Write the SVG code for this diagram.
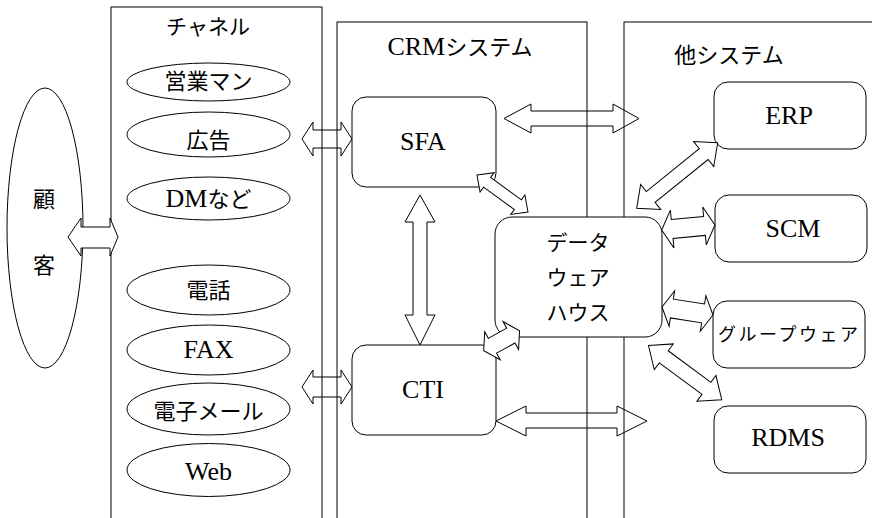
<svg xmlns="http://www.w3.org/2000/svg" width="872" height="518" viewBox="0 0 872 518">
  <style>
    .frame { fill: none; stroke: #000; stroke-width: 1; }
    .node { fill: #fff; stroke: #000; stroke-width: 1; }
    .arw { fill: #fff; stroke: #000; stroke-width: 1; stroke-linejoin: miter; }
    .open { fill: none; }
    text { font-family: "Liberation Serif", "Noto Sans CJK JP", serif; fill: #000; text-anchor: middle; }
    .jp { font-size: 22px; }
    .en { font-size: 26px; }
  </style>

  <rect width="872" height="518" fill="#fff"/>

  <!-- system frames (open at the bottom) -->
  <g id="frames">
    <g id="frame-channel">
      <rect class="frame" x="111" y="7" width="211" height="530"/>
      <text class="jp" x="208" y="34" style="font-size:21px">チャネル</text>
    </g>
    <g id="frame-crm">
      <rect class="frame" x="337" y="22" width="250" height="515"/>
      <text x="460" y="55"><tspan class="en">CRM</tspan><tspan class="jp">システム</tspan></text>
    </g>
    <g id="frame-other">
      <rect class="frame" x="624" y="22" width="270" height="515"/>
      <text class="jp" x="729" y="63">他システム</text>
    </g>
  </g>

  <!-- customer -->
  <g id="customer">
    <ellipse class="node" cx="45" cy="228" rx="38" ry="140"/>
    <text class="jp" x="44" y="207">顧</text>
    <text class="jp" x="44" y="273">客</text>
  </g>

  <!-- channels -->
  <g id="ch-sales">
    <ellipse class="node" cx="208.5" cy="82" rx="81.5" ry="19"/>
    <text class="jp" x="208.5" y="89">営業マン</text>
  </g>
  <g id="ch-ad">
    <ellipse class="node" cx="208.5" cy="134.5" rx="81.5" ry="22.5"/>
    <text class="jp" x="208.5" y="148">広告</text>
  </g>
  <g id="ch-dm">
    <ellipse class="node" cx="208.5" cy="198.5" rx="81.5" ry="21.5"/>
    <text x="208.5" y="207"><tspan class="en">DM</tspan><tspan class="jp">など</tspan></text>
  </g>
  <g id="ch-tel">
    <ellipse class="node" cx="208.5" cy="290" rx="81.5" ry="25"/>
    <text class="jp" x="208.5" y="298">電話</text>
  </g>
  <g id="ch-fax">
    <ellipse class="node" cx="208.5" cy="350" rx="81.5" ry="25"/>
    <text class="en" x="208.5" y="358">FAX</text>
  </g>
  <g id="ch-mail">
    <ellipse class="node" cx="208.5" cy="409" rx="81.5" ry="26"/>
    <text class="jp" x="208.5" y="419">電子メール</text>
  </g>
  <g id="ch-web">
    <ellipse class="node" cx="208.5" cy="470" rx="81.5" ry="26.5"/>
    <text class="en" x="208.5" y="480">Web</text>
  </g>

  <!-- CRM components -->
  <g id="sfa">
    <rect class="node" x="352" y="97" width="144" height="90" rx="14"/>
    <text class="en" x="423" y="150">SFA</text>
  </g>
  <g id="cti">
    <rect class="node" x="352" y="345" width="144" height="90" rx="14"/>
    <text class="en" x="423" y="398">CTI</text>
  </g>
  <g id="dwh">
    <rect class="node" x="495" y="217" width="167" height="120" rx="17"/>
    <text class="jp" x="578" y="250" style="font-size:21px">データ</text>
    <text class="jp" x="578" y="285" style="font-size:21px">ウェア</text>
    <text class="jp" x="578" y="320" style="font-size:21px">ハウス</text>
  </g>

  <!-- other systems -->
  <g id="erp">
    <rect class="node" x="714" y="82" width="152" height="67" rx="14"/>
    <text class="en" x="789" y="124">ERP</text>
  </g>
  <g id="scm">
    <rect class="node" x="715" y="195" width="152" height="67" rx="14"/>
    <text class="en" x="793" y="237">SCM</text>
  </g>
  <g id="groupware">
    <rect class="node" x="713" y="301" width="152" height="67" rx="14"/>
    <text class="jp" x="788" y="341" style="font-size:18px" textLength="140" lengthAdjust="spacing">グループウェア</text>
  </g>
  <g id="rdms">
    <rect class="node" x="714" y="406" width="152" height="67" rx="14"/>
    <text class="en" x="788" y="446">RDMS</text>
  </g>

  <!-- connectors: block double arrows -->
  <g id="connectors">
    <polygon class="arw" points="68,237 81,218 81,227 110,227 110,218 118,237 110,256 110,248 81,248 81,256"/>
    <polygon class="arw open" points="302,139 313,122 313,130 341,130 341,122 352,139 341,156 341,148 313,148 313,156"/>
    <polygon class="arw open" points="302,387 313,370 313,377 341,377 341,370 352,387 341,404 341,397 313,397 313,404"/>
    <polygon class="arw open" points="504,118.5 531,104 531,111 613,111 613,104 639,118.5 613,133 613,126 531,126 531,133"/>
    <polygon class="arw open" points="496,421 526,406 526,413 617,413 617,406 647,421 617,436 617,428 526,428 526,436"/>
    <polygon class="arw" points="420,195 435,222 427,222 427,315 435,315 420,345 405,315 413,315 413,222 405,222"/>
    <polygon class="arw" transform="translate(477 175) rotate(36)" points="0,0 12.5,-12 12.5,-6 50.5,-6 50.5,-12 63,0 50.5,12 50.5,6 12.5,6 12.5,12"/>
    <polygon class="arw" transform="translate(483.7 350.6) rotate(-29)" points="0,0 10,-16 10,-8.5 31,-8.5 31,-16 41,0 31,16 31,8.5 10,8.5 10,16"/>
    <polygon class="arw" transform="translate(636.7 208.3) rotate(-39)" points="0,0 18,-16 18,-7 86.2,-7 86.2,-16 104.2,0 86.2,16 86.2,7 18,7 18,16"/>
    <polygon class="arw" transform="translate(661.7 230) rotate(-5.4)" points="0,0 10.5,-19 10.5,-9.5 43,-9.5 43,-19 53.5,0 43,19 43,9.5 10.5,9.5 10.5,19"/>
    <polygon class="arw" transform="translate(662 307) rotate(8.9)" points="0,0 10,-18 10,-9.5 41.6,-9.5 41.6,-18 51.6,0 41.6,18 41.6,9.5 10,9.5 10,18"/>
    <polygon class="arw" transform="translate(648.5 345.5) rotate(36.5)" points="0,0 19,-16 19,-7.5 72.1,-7.5 72.1,-16 91.1,0 72.1,16 72.1,7.5 19,7.5 19,16"/>
  </g>
</svg>
